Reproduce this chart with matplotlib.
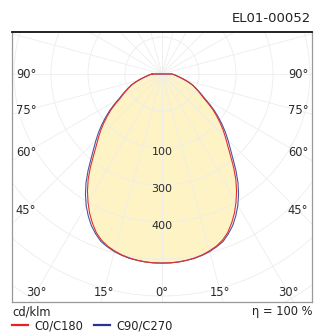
import matplotlib.pyplot as plt
import numpy as np

# Lichtstärkeverteilung (cd/klm), gamma 0..90 in 2.5° steps
gamma = np.arange(0, 92.5, 2.5)
c0_c180 = [511, 511, 510, 508, 505, 501, 495, 488, 478, 464, 445, 424, 400, 375, 348, 318,
           288, 263, 243, 224, 205, 186, 168, 148, 130, 118, 107, 97, 88, 77, 66, 56, 48,
           41, 36, 31, 27]
c90_c270 = [511, 511, 510, 508, 506, 502, 497, 490, 482, 468, 452, 432, 410, 385, 358, 328,
            298, 273, 252, 232, 212, 192, 173, 153, 134, 121, 109, 98, 89, 77, 66, 56, 48,
            41, 36, 31, 27]

rings = [100, 200, 300, 400, 500, 600, 700, 800]
ring_label_pos = [200, 300, 400]
ring_labels = ['100', '300', '400']
side_angles = [90, 75, 60, 45]
bottom_angles = [-30, -15, 0, 15, 30]

W, H = 316, 334
fig = plt.figure(figsize=(W / 100, H / 100), dpi=100)

# frame and centre in pixels
fl, fr, ft, fb = 12, 312, 32, 302
cx, cy = 162, 74
k = 0.37  # px per cd

ax = fig.add_axes([fl / W, 1 - fb / H, (fr - fl) / W, (fb - ft) / H])
xmin, xmax = (fl - cx) / k, (fr - cx) / k
ymin, ymax = -(fb - cy) / k, (cy - ft) / k
ax.set_xlim(xmin, xmax)
ax.set_ylim(ymin, ymax)
ax.set_xticks([])
ax.set_yticks([])
for s in ax.spines.values():
    s.set_color('#999999')
    s.set_linewidth(0.9)
ax.spines['top'].set_color('#111111')
ax.spines['top'].set_linewidth(1.3)


def curve(vals):
    g = np.radians(np.concatenate([-gamma[::-1], gamma[1:]]))
    r = np.concatenate([np.array(vals)[::-1], np.array(vals)[1:]])
    x = np.append(r * np.sin(g), 0)
    y = np.append(-r * np.cos(g), 0)
    return np.append(x, x[0]), np.append(y, y[0])


x0, y0 = curve(c0_c180)
x9, y9 = curve(c90_c270)
ax.fill(x0, y0, color='#fdf3c4', zorder=1, lw=0)

# grid
gc = '#ededed'
for r in rings:
    ax.add_patch(plt.Circle((0, 0), r, fill=False, ec=gc, lw=0.6, zorder=2))
for a in range(0, 360, 15):
    t = np.radians(a)
    ax.plot([0, 3000 * np.sin(t)], [0, -3000 * np.cos(t)], color=gc, lw=0.6, zorder=2)

l1, = ax.plot(x9, y9, color='#4a55a0', lw=0.8, zorder=3, label='C90/C270')
l0, = ax.plot(x0, y0, color='#e0302c', lw=0.8, zorder=4, label='C0/C180')

fs = 8.3
tc = '#2a2a2a'
# side labels
inset_x = 14 / k
for a in side_angles:
    for sgn in (-1, 1):
        xl = sgn * ((xmax if sgn > 0 else -xmin) - inset_x)
        yl = 0 if a == 90 else -abs(xl) / np.tan(np.radians(a))
        ax.text(xl, yl, f'{a}°', ha='center', va='center', fontsize=fs,
                color=tc, zorder=5)
# bottom labels
yb = ymin + 10 / k
for a in bottom_angles:
    xb = -yb * np.tan(np.radians(a))
    ax.text(xb, yb, f'{abs(a)}°', ha='center', va='center', fontsize=fs,
            color=tc, zorder=5)
# ring labels
for p, lab in zip(ring_label_pos, ring_labels):
    ax.text(0, -(p + 10), lab, ha='center', va='center', fontsize=8,
            color=tc, zorder=5)

fig.text(311 / W, 1 - 18 / H, 'EL01-00052', ha='right', va='center', fontsize=9.5, color='#222222')
fig.text(12 / W, 1 - 312 / H, 'cd/klm', ha='left', va='center', fontsize=fs, color='#222222')
fig.text(312 / W, 1 - 312 / H, 'η = 100 %', ha='right', va='center', fontsize=fs, color='#222222')

from matplotlib.lines import Line2D
h0 = Line2D([], [], color='#e52421', lw=1.6)
h1 = Line2D([], [], color='#2e3192', lw=1.6)
fig.legend(handles=[h0, h1], labels=['C0/C180', 'C90/C270'], loc='center left',
           bbox_to_anchor=(12 / W, 1 - 326 / H), ncol=2, frameon=False, fontsize=fs,
           handlelength=1.4, handletextpad=0.5, columnspacing=1.0, borderpad=0,
           borderaxespad=0, labelcolor='#222222')

fig.savefig('out.png', dpi=100)
